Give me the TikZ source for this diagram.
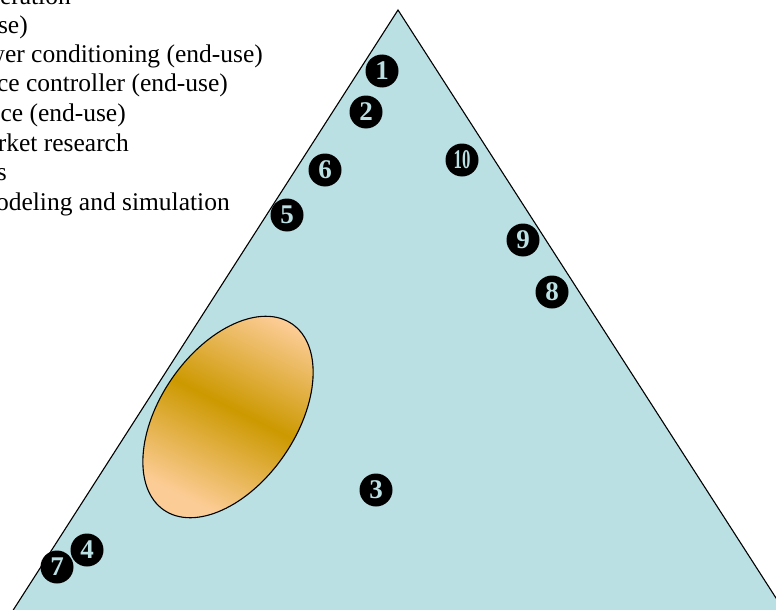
\documentclass[tikz,border=0pt]{standalone}
\usepackage{fontspec}
\setmainfont{Liberation Serif}
\usepackage{graphicx}
\usepackage{tikz}
\usetikzlibrary{positioning,shapes.geometric}

\definecolor{sea}{HTML}{BBE0E3}
\definecolor{peach}{HTML}{FCCC96}
\definecolor{gold}{HTML}{CC9900}

\begin{document}
\begin{tikzpicture}[x=1pt, y=1pt,
  lbl/.style={anchor=base east, inner sep=0pt, font=\fontsize{25.5}{29.4}\selectfont},
  num/.style={circle, fill=black, minimum size=33pt, inner sep=0pt, text=sea,
    font=\fontsize{27}{27}\selectfont\bfseries}]
\useasboundingbox (0,0) rectangle (776,-610);
\clip (0,0) rectangle (776,-610);
% the triangle runs past the lower edge of the page
\draw[fill=sea, line width=1.1pt] (398,-10) -- (-6,-640) -- (803,-640) -- cycle;
\node[ellipse, draw, line width=1.1pt, minimum width=226pt, minimum height=136pt, inner sep=0pt,
  rotate=55.4, top color=peach, bottom color=peach, middle color=gold,
  shading angle=-26.6] (ell) at (228,-417) {};
\node[lbl] (t1) at (71,-5) {eration};
\node[lbl] (t2) at (28,-33.5) {se)};
\node[lbl] (t3) at (263,-63) {wer conditioning (end-use)};
\node[lbl] (t4) at (228,-92) {ce controller (end-use)};
\node[lbl] (t5) at (126,-121.5) {ce (end-use)};
\node[lbl] (t6) at (129,-151) {rket research};
\node[lbl] (t7) at (7,-180) {s};
\node[lbl] (t8) at (230,-210) {odeling and simulation};
\node[num] (n1) at (382,-71) {1};
\node[num] (n2) at (366,-112) {2};
\node[num] (n3) at (376,-490) {3};
\node[num] (n4) at (87,-550) {4};
\node[num] (n5) at (287,-215) {5};
\node[num] (n6) at (325,-170) {6};
\node[num] (n7) at (57,-567) {7};
\node[num] (n8) at (552,-292) {8};
\node[num] (n9) at (523,-240) {9};
\node[num] (n10) at (462,-160) {\scalebox{0.62}[1]{10}};
\end{tikzpicture}
\end{document}
